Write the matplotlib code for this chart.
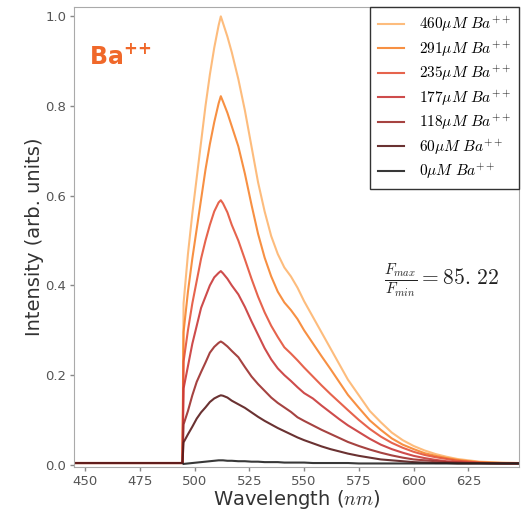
import numpy as np
import matplotlib
matplotlib.use("Agg")
import matplotlib.pyplot as plt

plt.rcParams['mathtext.fontset'] = 'cm'

# wavelength grid (nm)
wl = [445, 494.5, 495, 497, 499, 501, 503, 505, 507, 509, 511, 512, 513, 515, 517,
      520, 523, 526, 529, 532, 535, 538, 541, 544, 547, 550,
      554, 558, 562, 566, 570, 575, 580, 585, 590, 595, 600,
      605, 610, 615, 620, 625, 630, 635, 640, 648]

conc = ['460', '291', '235', '177', '118', '60', '0']

i460 = [0.004, 0.004, 0.36, 0.47, 0.56, 0.64, 0.72, 0.80, 0.87, 0.93, 0.98, 1.00, 0.985, 0.955, 0.92,
        0.86, 0.79, 0.71, 0.63, 0.565, 0.51, 0.47, 0.44, 0.42, 0.395, 0.365,
        0.33, 0.295, 0.26, 0.225, 0.19, 0.155, 0.12, 0.095, 0.072, 0.055, 0.042,
        0.032, 0.024, 0.018, 0.013, 0.010, 0.007, 0.006, 0.005, 0.004]
i291 = [0.004, 0.004, 0.296, 0.386, 0.460, 0.526, 0.592, 0.658, 0.715, 0.764, 0.806, 0.822, 0.81, 0.785, 0.755,
        0.71, 0.649, 0.58, 0.515, 0.462, 0.42, 0.386, 0.362, 0.345, 0.325, 0.300,
        0.271, 0.242, 0.214, 0.185, 0.156, 0.127, 0.099, 0.078, 0.059, 0.045, 0.035,
        0.026, 0.020, 0.015, 0.011, 0.008, 0.006, 0.005, 0.004, 0.004]
i235 = [0.004, 0.004, 0.23, 0.30, 0.36, 0.41, 0.46, 0.50, 0.535, 0.565, 0.585, 0.59, 0.583, 0.563, 0.535,
        0.50, 0.458, 0.415, 0.375, 0.34, 0.31, 0.285, 0.262, 0.248, 0.233, 0.217,
        0.197, 0.177, 0.158, 0.14, 0.122, 0.10, 0.08, 0.063, 0.049, 0.038, 0.029,
        0.022, 0.017, 0.013, 0.009, 0.007, 0.005, 0.004, 0.004, 0.003]
i177 = [0.004, 0.004, 0.17, 0.22, 0.27, 0.31, 0.35, 0.375, 0.40, 0.418, 0.428, 0.432, 0.427, 0.415, 0.40,
        0.38, 0.352, 0.32, 0.29, 0.26, 0.235, 0.215, 0.20, 0.187, 0.173, 0.16,
        0.148, 0.132, 0.117, 0.102, 0.088, 0.073, 0.058, 0.045, 0.035, 0.027, 0.02,
        0.015, 0.011, 0.008, 0.006, 0.005, 0.004, 0.004, 0.003, 0.003]
i118 = [0.004, 0.004, 0.09, 0.12, 0.155, 0.185, 0.207, 0.228, 0.25, 0.263, 0.272, 0.275, 0.272, 0.264, 0.254,
        0.24, 0.218, 0.197, 0.18, 0.165, 0.15, 0.138, 0.128, 0.118, 0.106, 0.098,
        0.088, 0.078, 0.069, 0.06, 0.051, 0.042, 0.034, 0.027, 0.021, 0.016, 0.012,
        0.01, 0.008, 0.006, 0.005, 0.004, 0.004, 0.003, 0.003, 0.003]
i60 = [0.004, 0.004, 0.05, 0.068, 0.085, 0.103, 0.117, 0.128, 0.14, 0.148, 0.153, 0.155, 0.154, 0.15, 0.143,
       0.135, 0.127, 0.117, 0.107, 0.098, 0.09, 0.082, 0.075, 0.068, 0.061, 0.055,
       0.048, 0.041, 0.035, 0.03, 0.025, 0.02, 0.016, 0.012, 0.01, 0.008, 0.006,
       0.005, 0.004, 0.004, 0.003, 0.003, 0.003, 0.003, 0.003, 0.003]
i0 = [np.nan, np.nan, 0.002, 0.003, 0.004, 0.005, 0.006, 0.007, 0.008, 0.009, 0.010, 0.010, 0.010, 0.009, 0.009,
      0.008, 0.008, 0.007, 0.007, 0.006, 0.006, 0.006, 0.005, 0.005, 0.005, 0.005,
      0.004, 0.004, 0.004, 0.004, 0.004, 0.003, 0.003, 0.003, 0.003, 0.003, 0.003,
      0.003, 0.003, 0.003, 0.003, 0.003, 0.003, 0.003, 0.003, 0.003]

series = [i460, i291, i235, i177, i118, i60, i0]
colors = ['#fdb56f', '#f7842e', '#e4533a', '#c93838', '#9c2e2c', '#5a1b1b', '#222222']

fig = plt.figure(figsize=(5.23, 5.11), dpi=100)
ax = fig.add_axes([0.1415, 0.086, 0.8505, 0.8995])

for c, y, col in zip(conc, series, colors):
    ax.plot(wl, y, color=col, lw=1.5, alpha=0.9,
            label=r'$%s\mu M\ Ba^{++}$' % c)

ax.set_xlim(445, 648)
ax.set_ylim(-0.005, 1.02)
ax.set_xticks([450, 475, 500, 525, 550, 575, 600, 625])
ax.set_yticks([0.0, 0.2, 0.4, 0.6, 0.8, 1.0])
ax.tick_params(colors='#888888', labelcolor='#555555', labelsize=9.5, length=3, width=1, pad=2.5)
for s in ax.spines.values():
    s.set_color('#aaaaaa')

ax.set_xlabel(r'Wavelength ($nm$)', fontsize=14, color='#333333', labelpad=0)
ax.set_ylabel('Intensity (arb. units)', fontsize=14, color='#333333', labelpad=1)

ax.text(0.034, 0.877, r'Ba$^{\mathbf{+\!+}}$', transform=ax.transAxes, fontsize=17,
        fontweight='bold', color='#f0682a', math_fontfamily='dejavusans')
ax.text(0.697, 0.406, r'$\frac{F_{max}}{F_{min}} = 85.\,22$', transform=ax.transAxes,
        fontsize=15.5, color='#222222', va='center')

leg = ax.legend(loc='upper right', borderaxespad=0, fontsize=11, framealpha=1,
                edgecolor='#333333', fancybox=False, labelspacing=0.35,
                handlelength=1.7, handletextpad=1.0, borderpad=0.5)

fig.savefig('out.png', dpi=100)
